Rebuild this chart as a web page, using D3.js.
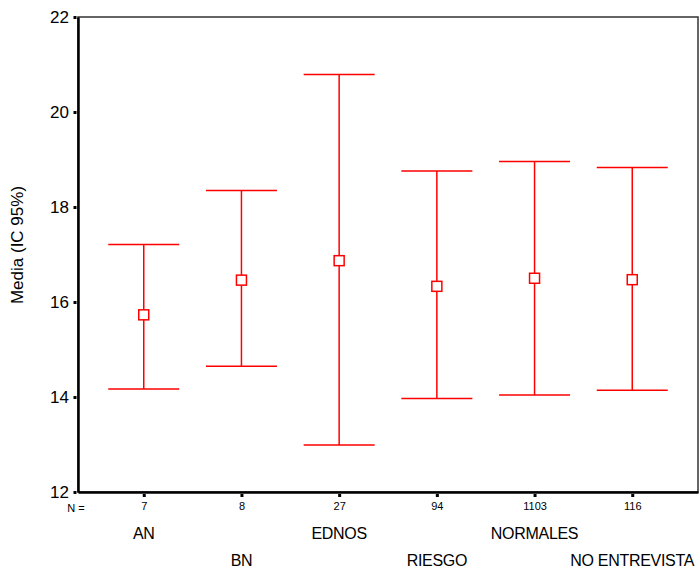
<!DOCTYPE html>
<html>
<head>
<meta charset="utf-8">
<script src="https://cdn.jsdelivr.net/npm/d3@7"></script>
<style>
  body { margin: 0; background: #fff; }
  text { font-family: Arial, "Liberation Sans", sans-serif; fill: #000; }
</style>
</head>
<body>
<div id="chart"></div>
<script>
// data
let groups = ['AN', 'BN', 'EDNOS', 'RIESGO', 'NORMALES', 'NO ENTREVISTA'];
let counts = [7, 8, 27, 94, 1103, 116];
let means = [15.73, 16.46, 16.87, 16.33, 16.50, 16.47];
let lower = [14.17, 14.65, 12.99, 13.97, 14.04, 14.14];
let upper = [17.21, 18.35, 20.79, 18.76, 18.96, 18.83];
let yTicks = [12, 14, 16, 18, 20, 22];

let rows = groups.map(function(g, i){
  return { group: g, n: counts[i], mean: means[i], lo: lower[i], hi: upper[i], idx: i };
});

let margin = { top: 17, right: 1, bottom: 79, left: 78 };
let width = 699 - margin.left - margin.right;
let height = 571 - margin.top - margin.bottom;

let svg = d3.select('#chart')
  .append('svg')
  .attr('width', 699)
  .attr('height', 571);

let g = svg.append('g')
  .attr('transform', 'translate(' + margin.left + ', ' + margin.top + ')');

let x = d3.scalePoint()
  .domain(groups)
  .range([0, width])
  .padding(0.673);

let y = d3.scaleLinear()
  .domain([12, 22])
  .range([height, 0]);

// frame
g.append('rect')
  .attr('x', 0)
  .attr('y', 0)
  .attr('width', width)
  .attr('height', height)
  .attr('fill', 'none')
  .attr('stroke', '#333')
  .attr('stroke-width', 1.5);

// Y axis
let yAxis = g.append('g')
  .attr('class', 'y axis')
  .call(d3.axisLeft(y).tickValues(yTicks).tickSize(0).tickPadding(9));
yAxis.select('.domain').attr('stroke', '#000').attr('stroke-width', 2.5);
yAxis.selectAll('.tick text')
  .attr('font-size', '17px')
  .attr('font-family', 'Arial, "Liberation Sans", sans-serif')
  .attr('dy', '0.35em');
yAxis.selectAll('.tick').append('rect')
  .attr('x', -4.5).attr('y', -1.5).attr('width', 3).attr('height', 3)
  .attr('fill', '#000');

// X axis
let xAxis = g.append('g')
  .attr('class', 'x axis')
  .attr('transform', 'translate(0, ' + height + ')')
  .call(d3.axisBottom(x).tickSize(0).tickFormat(function(d, i){ return counts[i]; }).tickPadding(10));
xAxis.select('.domain').attr('stroke', '#000').attr('stroke-width', 2.5);
xAxis.selectAll('.tick text')
  .attr('font-size', '11px')
  .attr('font-family', 'Arial, "Liberation Sans", sans-serif');
xAxis.selectAll('.tick').append('rect')
  .attr('x', -1.5).attr('y', 2).attr('width', 3).attr('height', 3)
  .attr('fill', '#000');

g.append('text')
  .attr('x', -2)
  .attr('y', height + 20)
  .attr('font-size', '11px')
  .attr('text-anchor', 'middle')
  .text('N =');

// category labels in two staggered rows
g.selectAll('.cat-label')
  .data(rows)
  .enter()
  .append('text')
  .attr('class', 'cat-label')
  .attr('x', function(d){ return x(d.group); })
  .attr('y', function(d){ return d.idx % 2 === 0 ? height + 47 : height + 74; })
  .attr('font-size', '16px')
  .attr('letter-spacing', '-0.3px')
  .attr('text-anchor', 'middle')
  .text(function(d){ return d.group; });

// Y label
g.append('text')
  .attr('transform', 'rotate(-90)')
  .attr('x', -228)
  .attr('y', -55)
  .attr('font-size', '17px')
  .attr('text-anchor', 'middle')
  .text('Media (IC 95%)');

// error bars
let red = '#ff0000';
let capHalf = 35.5;

let bars = g.selectAll('.ebar')
  .data(rows)
  .enter()
  .append('g')
  .attr('class', 'ebar');

bars.append('line')
  .attr('x1', function(d){ return x(d.group); })
  .attr('x2', function(d){ return x(d.group); })
  .attr('y1', function(d){ return y(d.hi); })
  .attr('y2', function(d){ return y(d.lo); })
  .attr('stroke', red)
  .attr('stroke-width', 1.5);

bars.append('line')
  .attr('x1', function(d){ return x(d.group) - capHalf; })
  .attr('x2', function(d){ return x(d.group) + capHalf; })
  .attr('y1', function(d){ return y(d.hi); })
  .attr('y2', function(d){ return y(d.hi); })
  .attr('stroke', red)
  .attr('stroke-width', 1.5);

bars.append('line')
  .attr('x1', function(d){ return x(d.group) - capHalf; })
  .attr('x2', function(d){ return x(d.group) + capHalf; })
  .attr('y1', function(d){ return y(d.lo); })
  .attr('y2', function(d){ return y(d.lo); })
  .attr('stroke', red)
  .attr('stroke-width', 1.5);

bars.append('rect')
  .attr('x', function(d){ return x(d.group) - 5; })
  .attr('y', function(d){ return y(d.mean) - 5; })
  .attr('width', 10)
  .attr('height', 10)
  .attr('fill', '#fff')
  .attr('stroke', red)
  .attr('stroke-width', 1.5);
</script>
</body>
</html>
